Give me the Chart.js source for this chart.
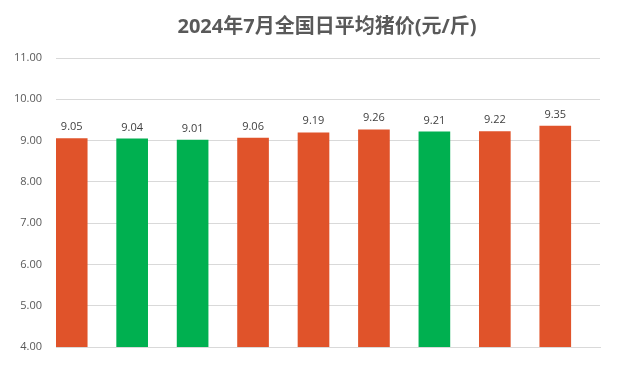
<!DOCTYPE html>
<html lang="zh">
<head>
<meta charset="UTF-8">
<title>2024年7月全国日平均猪价</title>
<style>
  html, body { margin: 0; padding: 0; background: #fff; }
  #wrap { width: 629px; height: 373px; }
</style>
</head>
<body>
<div id="wrap"><canvas id="myChart"></canvas></div>
<script src="https://cdn.jsdelivr.net/npm/chart.js@4.4.2/dist/chart.umd.min.js"></script>
<script>
// data (one bar per day, 1-9 July)
var days = [0, 1, 2, 3, 4, 5, 6, 7, 8];
var prices = [9.05, 9.04, 9.01, 9.06, 9.19, 9.26, 9.21, 9.22, 9.35];
var barColors = ['#E0532A', '#00B050', '#00B050', '#E0532A', '#E0532A', '#E0532A', '#00B050', '#E0532A', '#E0532A'];
var titleText = '2024年7月全国日平均猪价(元/斤)';

var FONT = '"Open Sans", "Noto Sans CJK SC", sans-serif';

// title drawn by hand so it can sit a little right of centre, like the original
var titlePlugin = {
    id: 'titlePlugin',
    afterDraw: function (chart) {
        var c = chart.ctx;
        c.save();
        c.font = 'bold 20px ' + FONT;
        c.fillStyle = '#595959';
        c.textAlign = 'center';
        c.textBaseline = 'middle';
        c.fillText(titleText, 327, 27);
        c.restore();
    }
};

// draws the value above each bar
var valueLabels = {
    id: 'valueLabels',
    afterDatasetsDraw: function (chart) {
        var c = chart.ctx;
        var meta = chart.getDatasetMeta(0);
        c.save();
        c.font = '11px ' + FONT;
        c.fillStyle = '#404040';
        c.textAlign = 'center';
        c.textBaseline = 'bottom';
        meta.data.forEach(function (bar, i) {
            c.fillText(prices[i].toFixed(2), bar.x, bar.y - 6);
        });
        c.restore();
    }
};

new Chart(document.getElementById('myChart'), {
    type: 'bar',
    data: {
        datasets: [{
            data: days.map(function (d, i) { return { x: d, y: prices[i] }; }),
            backgroundColor: barColors,
            barThickness: 31
        }]
    },
    options: {
        responsive: true,
        maintainAspectRatio: false,
        animation: false,
        layout: { padding: { left: 0, right: 29, top: 58, bottom: 18 } },
        scales: {
            x: {
                type: 'linear',
                offset: false,
                min: -0.26,
                max: 8.74,
                ticks: { display: false },
                grid: { display: false },
                border: { color: '#D9D9D9', width: 1 }
            },
            y: {
                min: 4,
                max: 11,
                afterFit: function (axis) { axis.width = 56; },
                ticks: {
                    stepSize: 1,
                    padding: 14,
                    color: '#595959',
                    font: { size: 11, family: FONT },
                    callback: function (v) { return v.toFixed(2); }
                },
                grid: { color: '#D9D9D9', drawTicks: false },
                border: { display: false }
            }
        },
        plugins: {
            legend: { display: false },
            tooltip: { enabled: false },
            title: { display: false }
        }
    },
    plugins: [valueLabels, titlePlugin]
});
</script>
</body>
</html>
